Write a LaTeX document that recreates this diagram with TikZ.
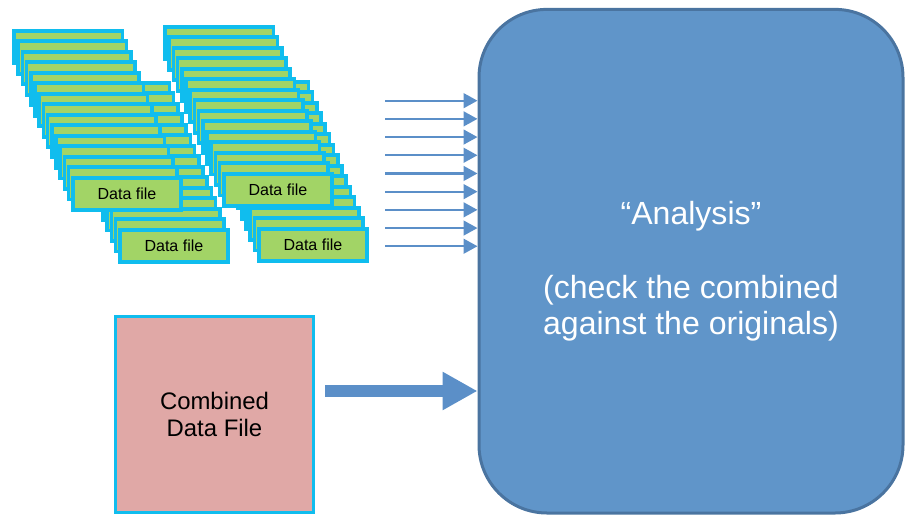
\documentclass[tikz,border=0pt]{standalone}
\usepackage{fontspec}
\setmainfont{Liberation Sans}
\usetikzlibrary{arrows.meta, calc}
\definecolor{dfgreen}{HTML}{A2D466}
\definecolor{dfcyan}{HTML}{10BDEE}
\definecolor{combpink}{HTML}{E0A8A6}
\definecolor{anblue}{HTML}{6095C9}
\definecolor{anborder}{HTML}{4A74A0}
\definecolor{arrowblue}{HTML}{5B8FC8}

\begin{document}
\begin{tikzpicture}[
  filebox/.style={rectangle, draw=dfcyan, fill=dfgreen, line width=2.6pt, minimum width=2.71cm, minimum height=0.81cm, inner sep=0pt, font=\fontsize{11.4}{13}\selectfont},
  combbox/.style={rectangle, draw=dfcyan, fill=combpink, line width=2pt, minimum width=4.95cm, minimum height=4.9cm, align=center, font=\fontsize{17}{19.2}\selectfont},
  anbox/.style={rectangle, rounded corners=1.7cm, draw=anborder, fill=anblue, line width=0.075cm, minimum width=10.6cm, minimum height=12.59cm, align=center, text=white, font=\fontsize{22.8}{25.6}\selectfont},
  feedarrow/.style={-{Triangle[length=0.35cm, width=0.37cm]}, arrowblue, line width=1.5pt},
  bigarrow/.style={-{Triangle[length=0.875cm, width=0.9cm]}, arrowblue, line width=0.3cm},
]
\useasboundingbox (0,0) rectangle (22.625,-12.9);

% stacks of data files (front corner in px)
\foreach \s/\lx/\ly in {b/118/228, a/71/176, d/257/227, c/222/172} {
  \foreach \i in {0,...,14} {
    \node[filebox] (\s\i) at ({(\lx-(14-\i)*4.2+56)*0.025}, {-(\ly-(14-\i)*10.5+18)*0.025}) {\ifnum\i=14 Data file\fi};
  }
}

\node[anbox] (analysis) at (17.275,-6.53) {\rule{0pt}{31pt}“Analysis”\\[27pt](check the combined\\against the originals)};

% files into analysis
\foreach \k in {0,...,8} {
  \coordinate (src\k) at (9.625, {-(100.7+18.2*\k)*0.025});
  \draw[feedarrow] (src\k) -- (src\k -| analysis.west);
}

\node[combbox] (combined) at (5.3625,-10.3625) {Combined\\Data File};
\coordinate (feed) at (8.125,-9.775);
\draw[bigarrow] (feed) -- (feed -| analysis.west);

\end{tikzpicture}
\end{document}
